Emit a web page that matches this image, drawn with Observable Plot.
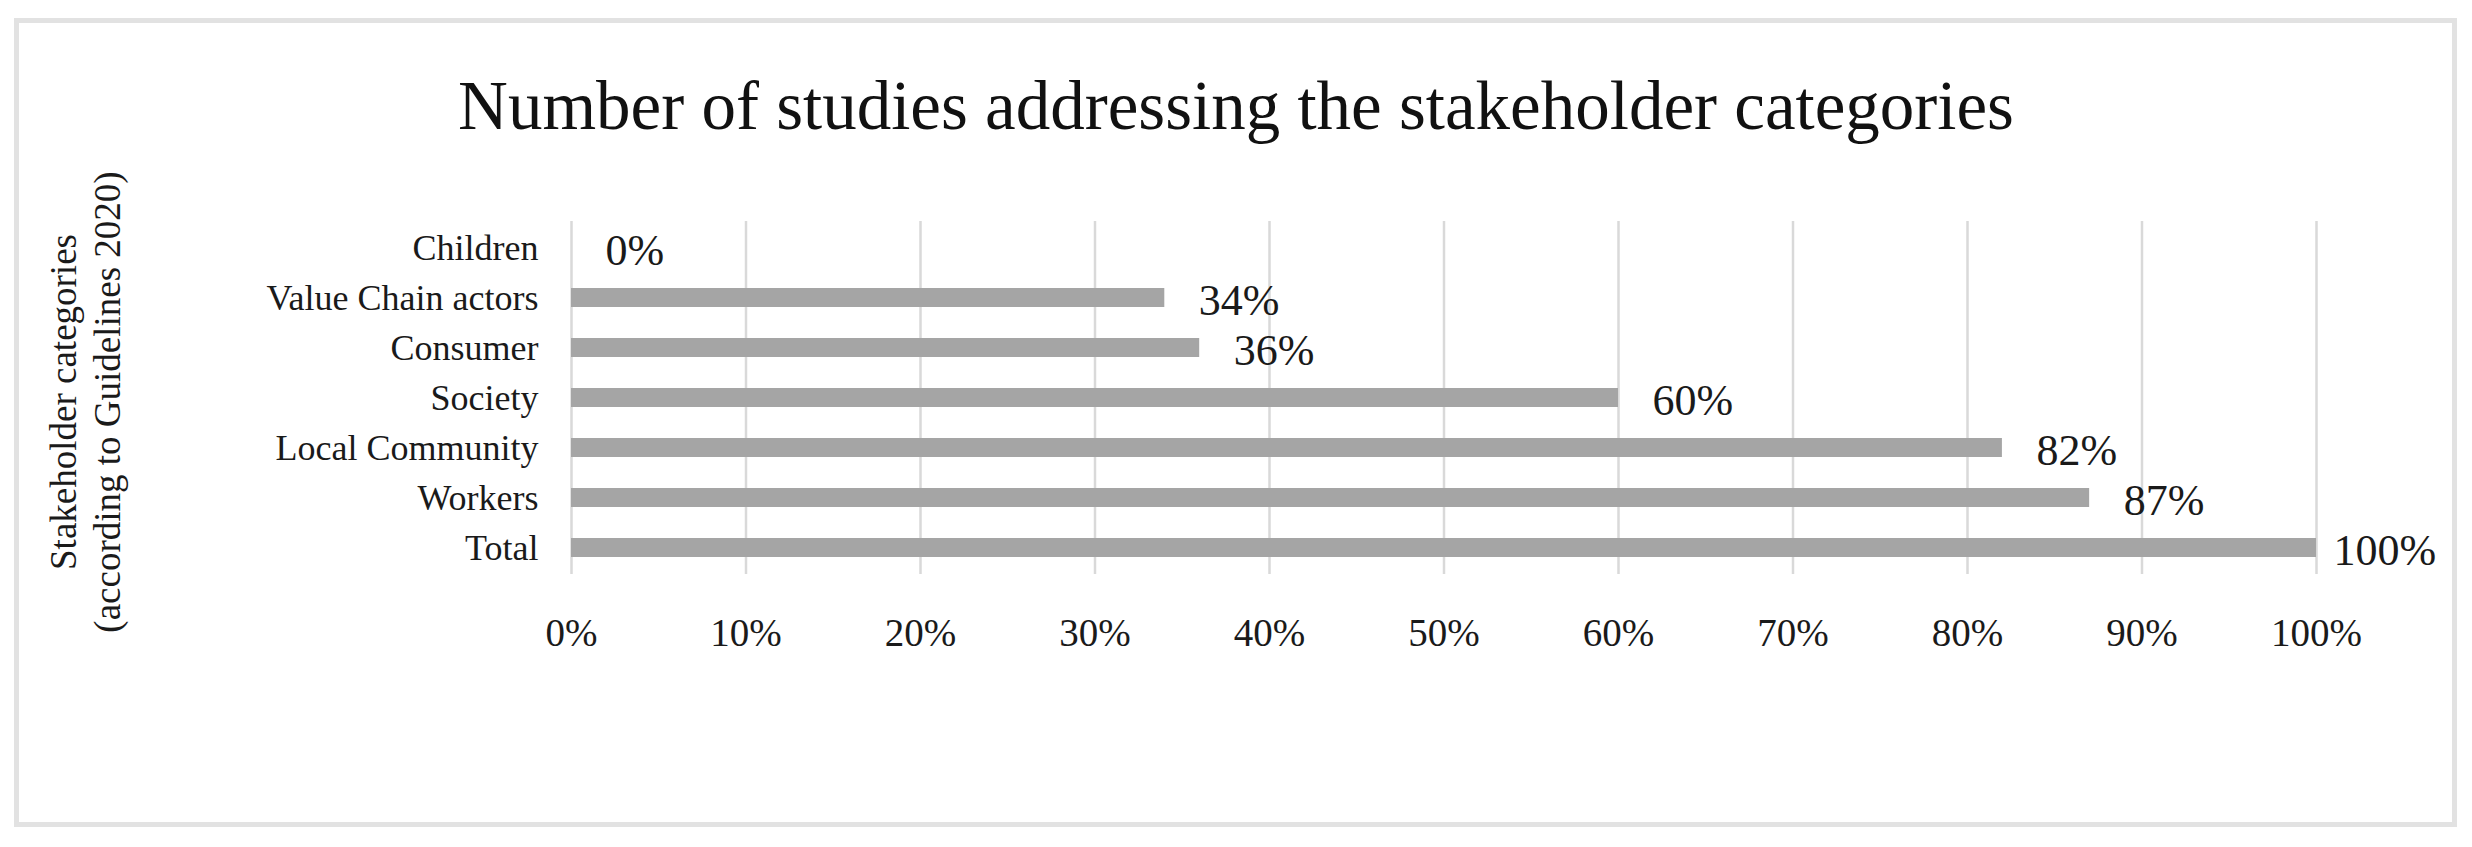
<!DOCTYPE html>
<html><head><meta charset="utf-8">
<script src="https://cdn.jsdelivr.net/npm/d3@7"></script>
<script src="https://cdn.jsdelivr.net/npm/@observablehq/plot@0.6"></script>
<style>
html,body{margin:0;padding:0;background:#fff;}
#wrap{position:relative;width:2472px;height:847px;overflow:hidden;background:#fff;}
#frame{position:absolute;left:14px;top:18px;width:2443px;height:809px;border:5px solid #e2e2e2;box-sizing:border-box;pointer-events:none;}
#title{height:160px;box-sizing:border-box;padding-top:72px;text-align:center;font-family:"Liberation Serif",serif;font-size:69px;line-height:69px;color:#111;white-space:nowrap;}
#chart svg{display:block;}
</style></head><body>
<div id="wrap"><div id="frame"></div><div id="title"></div><div id="chart"></div></div>
<script>
const titleText = "Number of studies addressing the stakeholder categories";
const yAxisTitle = "Stakeholder categories\n(according to Guidelines 2020)";
const categories = ["Children", "Value Chain actors", "Consumer", "Society", "Local Community", "Workers", "Total"];
const values = [0, 0.34, 0.36, 0.60, 0.82, 0.87, 1.00];
const xTicks = [0, 0.1, 0.2, 0.3, 0.4, 0.5, 0.6, 0.7, 0.8, 0.9, 1.0];

const data = categories.map((c, i) => ({category: c, value: values[i]}));
const pct = d3.format(".0%");
document.getElementById("title").textContent = titleText;

const chart = Plot.plot({
  width: 2472,
  height: 687,
  marginLeft: 571,
  marginRight: 156,
  marginTop: 61,
  marginBottom: 273,
  style: {fontFamily: "'Liberation Serif', serif", background: "transparent", color: "#1a1a1a", overflow: "visible"},
  x: {domain: [0, 1], ticks: xTicks, tickFormat: pct, label: null},
  y: {domain: categories, paddingInner: 0.62, paddingOuter: 0.31, label: null},
  marks: [
    Plot.ruleX(xTicks, {stroke: "#d9d9d9", strokeWidth: 2.5}),
    Plot.barX(data, {x: "value", y: "category", fill: "#a5a5a5"}),
    Plot.text(data.filter(d => d.value < 1), {x: "value", y: "category", text: d => pct(d.value), textAnchor: "start", dx: 34, dy: 3, fontSize: 44, fill: "#1a1a1a"}),
    Plot.text(data.filter(d => d.value >= 1), {x: "value", y: "category", text: d => pct(d.value), textAnchor: "start", dx: 17, dy: 3, fontSize: 44, fill: "#1a1a1a"}),
    Plot.axisY({tickSize: 0, tickPadding: 33, fontSize: 36, label: null}),
    Plot.axisX({ticks: xTicks, tickFormat: pct, tickSize: 0, tickPadding: 44, fontSize: 39, label: null}),
    Plot.text([yAxisTitle], {frameAnchor: "left", textAnchor: "middle", lineAnchor: "middle", rotate: -90, dx: -488, dy: 4, fontSize: 37, lineHeight: 1.2, text: d => d, fill: "#1a1a1a"})
  ]
});
document.getElementById("chart").appendChild(chart);
</script>
</body></html>
